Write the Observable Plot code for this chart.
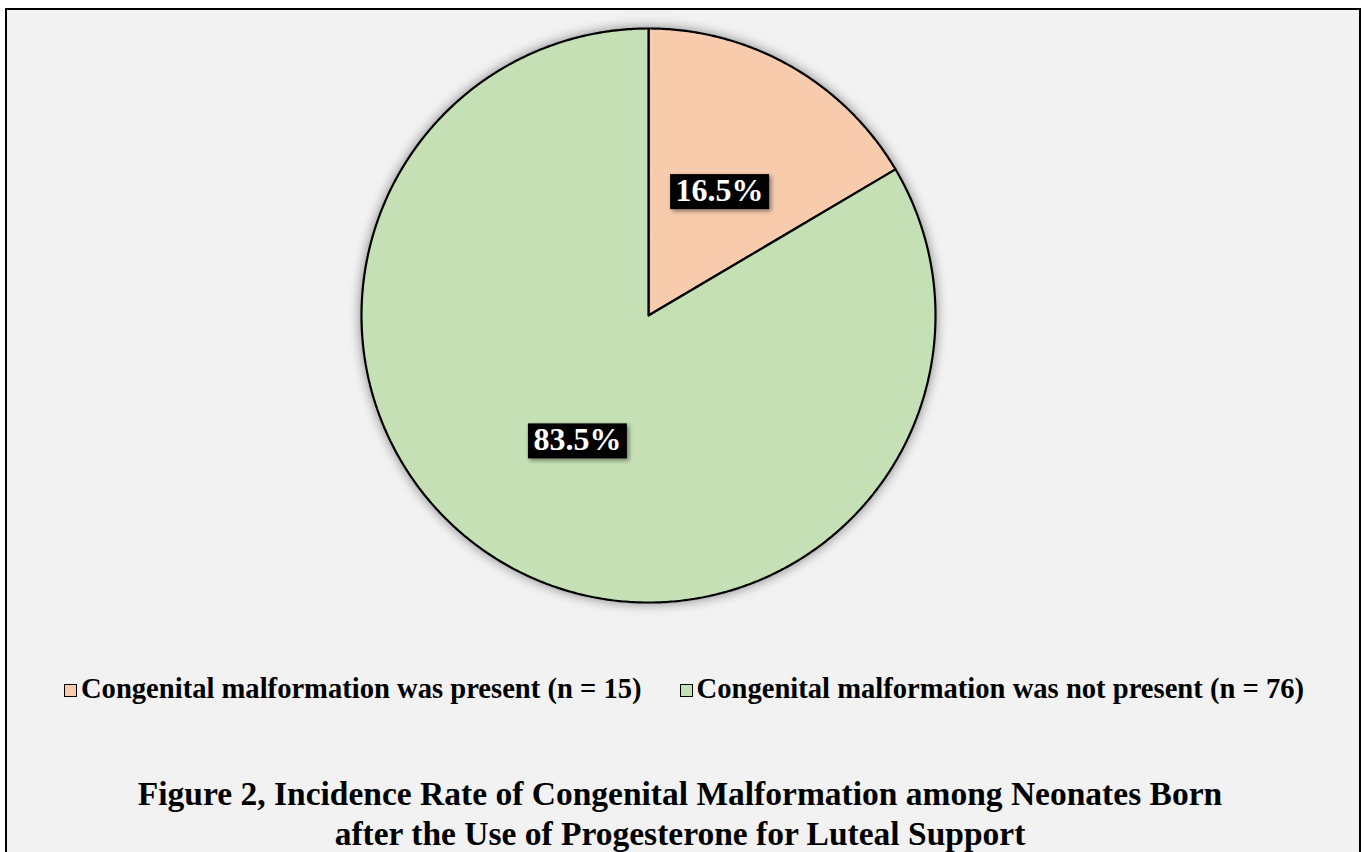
<!DOCTYPE html>
<html>
<head>
<meta charset="utf-8">
<script src="https://cdn.jsdelivr.net/npm/d3@7"></script>
<script src="https://cdn.jsdelivr.net/npm/@observablehq/plot@0.6"></script>
<style>
  html, body { margin: 0; padding: 0; background: #ffffff; width: 1365px; height: 852px; overflow: hidden; }
  #frame { position: absolute; left: 5px; top: 8px; width: 1356px; height: 900px; border: 2px solid #000; background: #f2f2f2; box-sizing: border-box; }
  #chart { position: absolute; left: 0; top: 0; }
  #legend { position: absolute; left: 0; width: 1368px; top: 675px; display: flex; justify-content: center; align-items: center;
    font-family: "Liberation Serif", "Times New Roman", serif; font-weight: bold; font-size: 28.6px; line-height: 28px; color: #000; white-space: nowrap; }
  .item { display: flex; align-items: center; margin: 0 19px; }
  .sw { width: 11px; height: 11px; border: 1.5px solid #000; margin-right: 4px; margin-top: 2px; }
  #title { position: absolute; left: 0; width: 1360px; top: 774px; text-align: center;
    font-family: "Liberation Serif", "Times New Roman", serif; font-weight: bold; font-size: 33.5px; line-height: 40px; color: #000; }
</style>
</head>
<body>
<div id="frame"></div>
<div id="chart"></div>
<div id="legend"></div>
<div id="title">Figure 2, Incidence Rate of Congenital Malformation among Neonates Born<br>after the Use of Progesterone for Luteal Support</div>
<script>
// ---- data ----
const categories = ["Congenital malformation was present", "Congenital malformation was not present"];
const counts = [15, 76];
const percents = [16.5, 83.5];
const colors = ["#f8cbad", "#c5e0b4"];

// ---- build slices ----
const pie = d3.pie().sort(null).value(d => d.pct);
const rows = categories.map((c, i) => ({ category: c, n: counts[i], pct: percents[i] }));
const arcs = pie(rows);

const outline = [];
arcs.forEach(a => {
  const key = a.data.category;
  outline.push({ key, x: 0, y: 0 });
  const steps = Math.max(2, Math.ceil((a.endAngle - a.startAngle) / (Math.PI / 360)));
  for (let k = 0; k <= steps; k++) {
    const t = a.startAngle + (a.endAngle - a.startAngle) * k / steps;
    outline.push({ key, x: Math.sin(t), y: Math.cos(t) });
  }
  outline.push({ key, x: 0, y: 0 });
});

const labels = arcs.map(a => {
  const m = (a.startAngle + a.endAngle) / 2;
  return { x: 0.5 * Math.sin(m), y: 0.5 * Math.cos(m), text: a.data.pct.toFixed(1) + "%" };
});

const chart = Plot.plot({
  width: 1365,
  height: 640,
  marginLeft: 361,
  marginRight: 430,
  marginTop: 28,
  marginBottom: 38,
  style: { background: "transparent", overflow: "visible" },
  x: { domain: [-1, 1], axis: null },
  y: { domain: [-1, 1], axis: null },
  color: { domain: categories, range: colors },
  marks: [
    Plot.line(outline, { x: "x", y: "y", z: "key", fill: "key", stroke: "#000", strokeWidth: 2.2, strokeLinejoin: "miter", curve: "linear", className: "slices" }),
    Plot.text(labels, { x: "x", y: "y", text: "text", fill: "#fff", fontSize: 32, fontWeight: "bold", fontFamily: "Liberation Serif, Times New Roman, serif", className: "lbl" })
  ]
});
document.getElementById("chart").appendChild(chart);

// soft glow behind the pie
chart.querySelectorAll(".slices").forEach(g => g.setAttribute("style", "filter: drop-shadow(0 0 6px rgba(0,0,0,0.45))"));

// black label boxes
chart.querySelectorAll(".lbl text").forEach(t => {
  const b = t.getBBox();
  const r = document.createElementNS("http://www.w3.org/2000/svg", "rect");
  const tr = t.getAttribute("transform");
  if (tr) r.setAttribute("transform", tr);
  r.setAttribute("x", b.x - 5.5);
  r.setAttribute("y", b.y + 2);
  r.setAttribute("width", b.width + 11);
  r.setAttribute("height", b.height - 1);
  r.setAttribute("fill", "#000");
  r.setAttribute("style", "filter: drop-shadow(2px 2px 2px rgba(0,0,0,0.45))");
  t.parentNode.insertBefore(r, t);
});

// legend
const lg = document.getElementById("legend");
categories.forEach((c, i) => {
  const it = document.createElement("div");
  it.className = "item";
  const sw = document.createElement("div");
  sw.className = "sw";
  sw.style.background = colors[i];
  const tx = document.createElement("span");
  tx.textContent = `${c} (n = ${counts[i]})`;
  it.appendChild(sw); it.appendChild(tx);
  lg.appendChild(it);
});
</script>
</body>
</html>
